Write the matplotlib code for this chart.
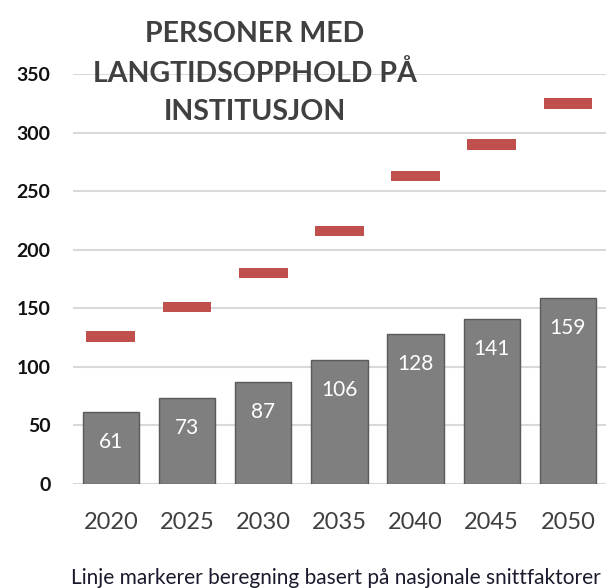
import numpy as np
import matplotlib.pyplot as plt

years = ['2020', '2025', '2030', '2035', '2040', '2045', '2050']
bars = [61, 73, 87, 106, 128, 141, 159]
line_vals = [126, 151, 180, 216, 263, 290, 325]

plt.rcParams['font.family'] = ['Lato', 'DejaVu Sans']

fig = plt.figure(figsize=(6.06, 5.88), dpi=100)
ax = fig.add_axes([0.12, 0.177, 0.88, 0.697])

x = np.arange(len(years))
ax.bar(x, bars, width=0.74, color='#7f7f7f', edgecolor='#5a5a5a', linewidth=1, zorder=3)
# red dashes for the national-average line
ax.bar(x, [9] * len(x), bottom=np.array(line_vals) - 4.5, width=0.64, color='#c0504d', zorder=4)

for xi, v in zip(x, bars):
    ax.annotate(str(v), (xi, v), xytext=(0, -30), textcoords='offset pixels',
                ha='center', va='center', color='white', fontsize=15, zorder=5)

ax.set_xlim(-0.5, 6.5)
ax.set_ylim(0, 350)
ax.set_yticks(range(0, 351, 50))
ax.set_xticks(x)
ax.set_xticklabels(years, fontsize=17, color='#404040')
ax.tick_params(axis='y', labelsize=14, length=0, pad=16, labelcolor='#111111')
ax.tick_params(axis='x', length=0, pad=20)
for lab in ax.get_yticklabels():
    lab.set_fontweight('bold')
ax.grid(axis='y', color='#d9d9d9', linewidth=1.5, zorder=0)
for s in ax.spines.values():
    s.set_visible(False)

fig.text(0.42, 0.876, 'PERSONER MED\nLANGTIDSOPPHOLD PÅ\nINSTITUSJON', ha='center', va='center',
         fontsize=20.5, fontweight='bold', color='#404040', linespacing=1.6)
fig.text(0.555, 0.017, 'Linje markerer beregning basert på nasjonale snittfaktorer',
         ha='center', va='center', fontsize=15, color='#1a1a2e')

fig.savefig('out.png', dpi=100)
